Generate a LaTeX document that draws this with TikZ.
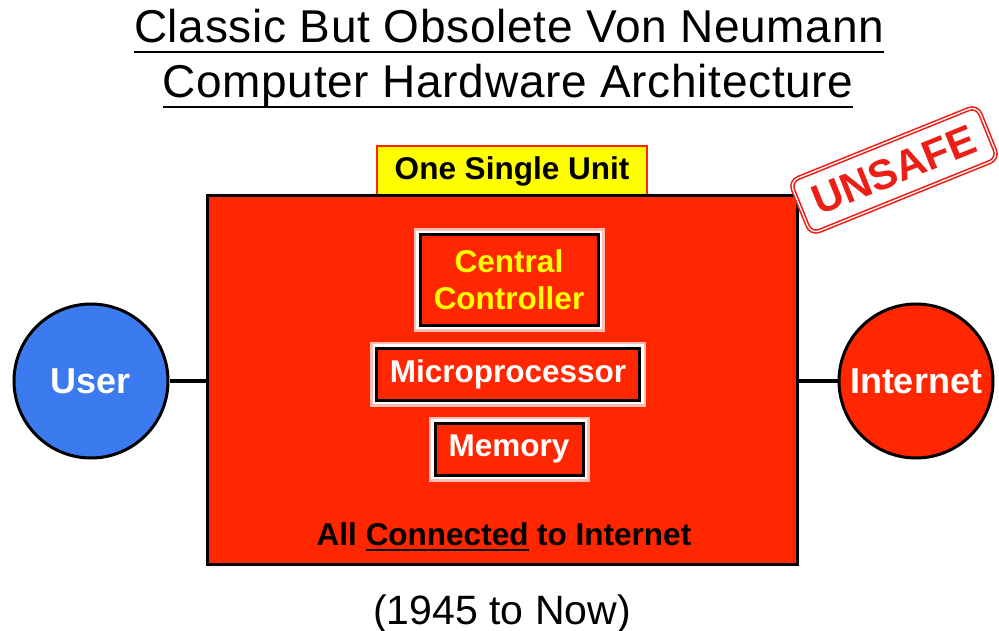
\documentclass[tikz,border=0pt]{standalone}
\usepackage{fontspec}
\setmainfont{Liberation Sans}
\newfontfamily\headfont{Liberation Sans}[LetterSpace=1.5]
\usepackage{tikz}
\usetikzlibrary{calc}

\definecolor{unitred}{RGB}{255,38,0}
\definecolor{userblue}{RGB}{60,122,240}
\definecolor{tagyellow}{RGB}{255,255,0}
\definecolor{stampred}{RGB}{236,30,22}
\definecolor{glowpink}{RGB}{255,190,180}

% text with a rule under it: #1 depth of the rule, #2 the text
\newcommand{\ulrule}[2]{\setbox0\hbox{#2}\rlap{\rule[-#1]{\wd0}{2pt}}\box0\relax}

\begin{document}
\begin{tikzpicture}[x=1pt,y=-1pt,
  every node/.style={inner sep=0pt},
  heading/.style={anchor=base,font=\headfont\fontsize{46}{54}\selectfont},
  boldtext/.style={font=\fontsize{31.5}{37}\selectfont\bfseries},
  part/.style={boldtext,draw=black,line width=3pt,fill=unitred,text=white,
    preaction={draw=glowpink,line width=13pt},
    preaction={draw=white,line width=8pt}},
  ball/.style={circle,draw=black,line width=3pt,minimum size=154pt,text=white,
    font=\fontsize{36}{40}\selectfont\bfseries},
  wire/.style={line width=4pt}]
  \useasboundingbox (0,0) rectangle (999,631);

  \node[heading] (head1) at (509,43) {\ulrule{10pt}{Classic But Obsolete Von Neumann}};
  \node[heading] (head2) at (508,98) {\ulrule{10pt}{Computer Hardware Architecture}};

  \node[boldtext,draw=unitred,line width=2pt,fill=tagyellow,
    minimum width=270pt,minimum height=50pt] (tag) at (512,171) {One Single Unit};
  \node[draw=black,line width=3pt,fill=unitred,
    minimum width=590pt,minimum height=368pt] (unit) at (502,380) {};

  \node[part,text=tagyellow,align=center,minimum width=178pt,minimum height=90pt]
    (ctrl) at (509,280) {Central\\Controller};
  \node[part,minimum width=263pt,minimum height=52pt] (cpu) at (508,374) {Microprocessor};
  \node[part,minimum width=148pt,minimum height=52pt] (mem) at (509,449) {Memory};

  \node[boldtext,anchor=base] (note) at (504,545) {All \ulrule{6pt}{Connected} to Internet};
  \node[anchor=base,font=\fontsize{41}{48}\selectfont] (span) at (502,624) {(1945 to Now)};

  \node[ball,fill=userblue] (user) at (91,381) {User};
  \node[ball,fill=unitred] (net) at (916,381) {Internet};
  \draw[wire] (user) -- (user -| unit.west);
  \draw[wire] (net) -- (net -| unit.east);

  \node[draw=stampred,double=white,double distance=1.3pt,line width=1.6pt,
    rounded corners=9pt,fill=white,text=stampred,
    font=\fontsize{42}{48}\selectfont\bfseries,
    minimum width=202pt,minimum height=57pt,rotate=22] (unsafe) at (894,170) {UNSAFE};
\end{tikzpicture}
\end{document}
